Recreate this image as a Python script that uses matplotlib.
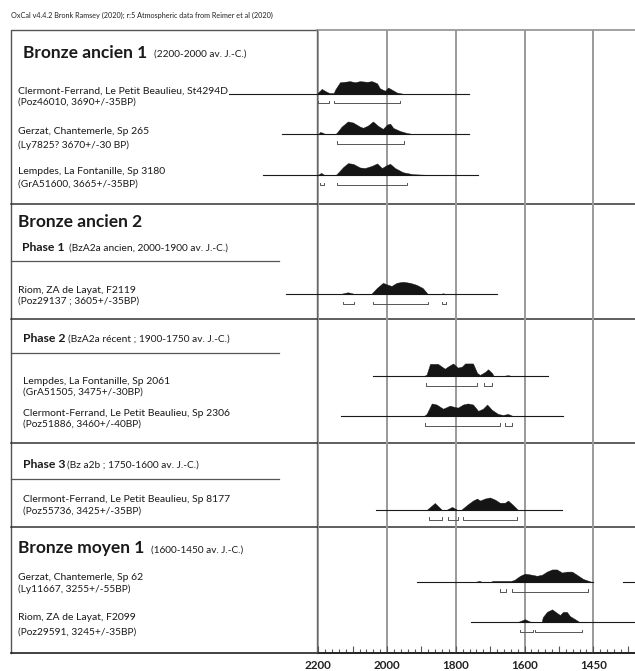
import matplotlib
matplotlib.use("Agg")
import matplotlib.pyplot as plt
from matplotlib.ticker import MultipleLocator, FuncFormatter

# ---------------- data ----------------
header = "OxCal v4.4.2 Bronk Ramsey (2020); r:5 Atmospheric data from Reimer et al (2020)"

sample_names = [
    "Clermont-Ferrand, Le Petit Beaulieu, St4294D",
    "Gerzat, Chantemerle, Sp 265",
    "Lempdes, La Fontanille, Sp 3180",
    "Riom, ZA de Layat, F2119",
    "Lempdes, La Fontanille, Sp 2061",
    "Clermont-Ferrand, Le Petit Beaulieu, Sp 2306",
    "Clermont-Ferrand, Le Petit Beaulieu, Sp 8177",
    "Gerzat, Chantemerle, Sp 62",
    "Riom, ZA de Layat, F2099",
]
sample_refs = [
    "(Poz46010, 3690+/-35BP)",
    "(Ly7825? 3670+/-30 BP)",
    "(GrA51600, 3665+/-35BP)",
    "(Poz29137 ; 3605+/-35BP)",
    "(GrA51505, 3475+/-30BP)",
    "(Poz51886, 3460+/-40BP)",
    "(Poz55736, 3425+/-35BP)",
    "(Ly11667, 3255+/-55BP)",
    "(Poz29591, 3245+/-35BP)",
]

section_titles = ["Bronze ancien 1", "Bronze ancien 2", "Bronze moyen 1"]
section_periods = ["(2200-2000 av. J.-C.)", "", "(1600-1450 av. J.-C.)"]
phase_titles = ["Phase 1", "Phase 2", "Phase 3"]
phase_periods = ["(BzA2a ancien, 2000-1900 av. J.-C.)",
                 "(BzA2a récent ; 1900-1750 av. J.-C.)",
                 "(Bz a2b ; 1750-1600 av. J.-C.)"]

# calibrated probability distributions (years BC, relative probability)
dens_years = [
    [2205, 2196, 2190, 2180, 2168, 2155, 2151, 2137, 2128, 2108, 2093, 2079, 2058, 2044, 2029, 2021, 2006, 1997, 1986, 1971, 1954],
    [2200, 2195, 2188, 2180, 2150, 2146, 2132, 2114, 2099, 2079, 2070, 2056, 2041, 2026, 2012, 2000, 1991, 1982, 1962, 1942, 1925],
    [2203, 2192, 2182, 2150, 2146, 2128, 2114, 2099, 2079, 2064, 2044, 2029, 2015, 2000, 1991, 1977, 1954, 1925, 1875, 1865],
    [2140, 2114, 2090, 2050, 2045, 2030, 2012, 1997, 1987, 1972, 1954, 1933, 1914, 1896, 1881, 1846, 1837, 1829],
    [1893, 1885, 1875, 1852, 1832, 1823, 1808, 1794, 1782, 1773, 1750, 1738, 1730, 1715, 1706, 1695, 1690, 1660, 1648, 1636],
    [1893, 1885, 1870, 1856, 1837, 1817, 1808, 1794, 1779, 1765, 1750, 1735, 1721, 1709, 1695, 1677, 1663, 1648, 1634],
    [1885, 1861, 1840, 1828, 1811, 1795, 1785, 1767, 1750, 1738, 1730, 1715, 1701, 1686, 1672, 1657, 1648, 1634, 1619],
    [1745, 1732, 1722, 1700, 1692, 1640, 1630, 1613, 1599, 1579, 1564, 1549, 1535, 1520, 1506, 1491, 1477, 1462, 1448, 1430, 1404],
    [1622, 1599, 1584, 1570, 1550, 1547, 1535, 1520, 1506, 1497, 1488, 1477, 1468, 1453, 1439, 1424],
]
dens_probs = [
    [0.0, 0.2, 0.36, 0.2, 0.05, 0.05, 0.3, 0.85, 0.87, 0.93, 0.85, 0.93, 0.88, 0.93, 0.77, 0.4, 0.22, 0.46, 0.3, 0.08, 0.0],
    [0.0, 0.15, 0.1, 0.0, 0.0, 0.1, 0.55, 0.93, 0.85, 0.55, 0.46, 0.62, 0.93, 0.6, 0.38, 0.7, 0.77, 0.45, 0.22, 0.07, 0.0],
    [0.0, 0.18, 0.02, 0.02, 0.1, 0.6, 0.9, 0.85, 0.58, 0.54, 0.7, 0.88, 0.54, 0.77, 0.85, 0.54, 0.23, 0.08, 0.03, 0.0],
    [0.0, 0.15, 0.0, 0.0, 0.05, 0.46, 0.85, 0.7, 0.62, 0.85, 0.93, 0.85, 0.7, 0.46, 0.0, 0.0, 0.08, 0.0],
    [0.0, 0.1, 0.9, 0.9, 0.54, 0.7, 0.93, 0.62, 0.7, 0.93, 0.93, 0.23, 0.08, 0.3, 0.5, 0.23, 0.02, 0.02, 0.06, 0.0],
    [0.0, 0.15, 0.93, 0.85, 0.54, 0.77, 0.7, 0.62, 0.85, 0.93, 0.85, 0.38, 0.54, 0.85, 0.46, 0.15, 0.08, 0.15, 0.0],
    [0.0, 0.52, 0.0, 0.0, 0.23, 0.0, 0.0, 0.38, 0.7, 0.85, 0.7, 0.85, 0.93, 0.77, 0.54, 0.54, 0.7, 0.38, 0.0],
    [0.0, 0.08, 0.0, 0.0, 0.08, 0.08, 0.15, 0.46, 0.62, 0.54, 0.46, 0.54, 0.77, 0.93, 0.93, 0.7, 0.77, 0.77, 0.54, 0.23, 0.0],
    [0.0, 0.23, 0.05, 0.04, 0.04, 0.38, 0.77, 0.96, 0.7, 0.54, 0.77, 0.77, 0.46, 0.23, 0.0, 0.0],
]

# extent of each sample's time axis (years BC)
line_start = [2460, 2306, 2361, 2294, 2042, 2134, 2032, 1914, 1757]
line_end = [1761, 1762, 1736, 1681, 1531, 1489, 1492, 1401, 1279]

# 95.4 % ranges (years BC)
ranges = [
    [(2201, 2169), (2154, 1962)],
    [(2146, 1951)],
    [(2195, 2183), (2146, 1942)],
    [(2128, 2096), (2041, 1881), (1840, 1829)],
    [(1887, 1738), (1718, 1695)],
    [(1890, 1672), (1657, 1637)],
    [(1878, 1840), (1823, 1794), (1779, 1622)],
    [(1672, 1654), (1637, 1416)],
    [(1613, 1576), (1570, 1433)],
]

grid_years = [2200, 2000, 1800, 1600, 1400]
grid_labels = ["2200", "2000", "1800", "1600", "1450"]

# ---------------- layout (pixel coordinates, y from top) ----------------
W, H = 635, 671
row_base = [93.7, 134, 175.3, 294.3, 376, 416, 510, 582, 622.3]
name_pos = [(18, 90.7), (17.7, 131), (17.7, 171), (18, 290.7), (23, 381),
            (23, 413.3), (23, 500), (18, 577.7), (18, 617.7)]
ref_dy = [11, 14.5, 13, 10, 10.7, 10.7, 11, 11.6, 14]
section_pos = [(23, 53, 154), (18, 221.7, None), (18, 548.3, 151)]
phase_pos = [(21.7, 247.7, 69), (22.7, 338.3, 68), (23, 465, 67)]
hlines_full = [204.3, 318.5, 443, 526.7]
hlines_part = [261, 353.3, 479]
box_left, box_right, top_y, bot_y = 10.7, 317, 29.5, 653
x2200 = 318.3
px_per_year = 68.75 / 200.0
peak_px = 13.5

FONT = "Lato"
fig = plt.figure(figsize=(W / 100, H / 100), dpi=100)
fig.patch.set_facecolor("white")

tab = fig.add_axes([0, 0, 1, 1])
tab.set_xlim(0, W)
tab.set_ylim(H, 0)
tab.axis("off")

# years axes
x_right_year = 2200 - (W - x2200) / px_per_year
ax = fig.add_axes([x2200 / W, (H - bot_y) / H, (W - x2200) / W, (bot_y - top_y) / H])
ax.set_xlim(2200, x_right_year)
ax.set_ylim(bot_y, top_y)
ax.patch.set_alpha(0)
for s in ["top", "left", "right"]:
    ax.spines[s].set_visible(False)
ax.spines["bottom"].set_color("#222222")
ax.spines["bottom"].set_linewidth(1.2)
ax.set_yticks([])
ax.xaxis.set_major_locator(MultipleLocator(100))
ax.xaxis.set_minor_locator(MultipleLocator(20))
lab_map = dict(zip(grid_years, grid_labels))
ax.xaxis.set_major_formatter(FuncFormatter(lambda v, p: lab_map.get(int(round(v)), "")))
ax.tick_params(axis="x", which="major", direction="in", length=5, width=0.8,
               color="#555555", pad=5, labelsize=8.4)
ax.tick_params(axis="x", which="minor", direction="in", length=2.8, width=0.8, color="#555555")
for t in ax.get_xticklabels():
    t.set_fontfamily(FONT)
    t.set_fontweight("bold")
    t.set_color("#222222")

# grid lines
for gy in grid_years:
    ax.axvline(gy, color="#9a9a9a", lw=1.4, zorder=1)

# table frame
tab.plot([box_left, box_left, box_right], [bot_y, top_y, top_y], color="#555555", lw=1.0)
tab.plot([box_right, W], [top_y, top_y], color="#9a9a9a", lw=1.3)
tab.plot([box_left, W], [bot_y, bot_y], color="#222222", lw=1.2)
tab.plot([box_right, box_right], [top_y, bot_y], color="#666666", lw=1.0)
for y in hlines_full:
    tab.plot([box_left, W], [y, y], color="#333333", lw=1.1)
for y in hlines_part:
    tab.plot([box_left, 279], [y, y], color="#555555", lw=0.9)

# header
tab.text(11, 15.7, header, fontsize=5.2, family=FONT, va="center", ha="left", color="#222222")

# section titles
for title, period, (x, y, px) in zip(section_titles, section_periods, section_pos):
    tab.text(x, y, title, fontsize=12.5, fontweight="bold", family=FONT, va="center", color="#1a1a1a")
    if period:
        tab.text(px, y + 1.5, period, fontsize=7.2, family=FONT, va="center", color="#1a1a1a")
for title, period, (x, y, px) in zip(phase_titles, phase_periods, phase_pos):
    tab.text(x, y, title, fontsize=8.8, fontweight="bold", family=FONT, va="center", color="#1a1a1a")
    tab.text(px, y + 0.5, period, fontsize=7.3, family=FONT, va="center", color="#1a1a1a")

# sample labels
for name, ref, (x, y), dy in zip(sample_names, sample_refs, name_pos, ref_dy):
    tab.text(x, y, name, fontsize=7.45, family=FONT, va="center", color="#1a1a1a")
    tab.text(x, y + dy, ref, fontsize=7.3, family=FONT, va="center", color="#1a1a1a")

# distributions
for i in range(len(sample_names)):
    base = row_base[i]
    ax.plot([line_start[i], line_end[i]], [base, base], color="#1a1a1a", lw=0.8,
            clip_on=False, zorder=3)
    if i == 7:
        ax.plot([1314, x_right_year], [base, base], color="#1a1a1a", lw=0.8, zorder=3)
    ys = [base - p * peak_px for p in dens_probs[i]]
    ax.fill_between(dens_years[i], base, ys, color="#151515", lw=0.3, zorder=4,
                    edgecolor="#151515")
    ry = base + 9.5
    for (a, b) in ranges[i]:
        ax.plot([a, a, b, b], [ry - 2.2, ry, ry, ry - 2.2], color="#555555", lw=0.7, zorder=3)

fig.savefig("out.png", dpi=100, facecolor="white")
